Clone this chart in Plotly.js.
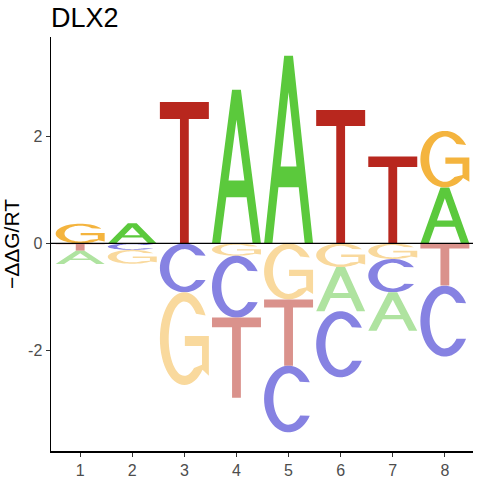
<!DOCTYPE html>
<html>
<head>
<meta charset="utf-8">
<script src="https://cdn.plot.ly/plotly-3.0.1.min.js"></script>
<style>html,body{margin:0;padding:0;background:#fff;}#chart{width:480px;height:480px;}</style>
</head>
<body>
<div id="chart"></div>
<script>
// ---- data ----
const title = "DLX2";
const positions = [1, 2, 3, 4, 5, 6, 7, 8];
const bases = ["A", "C", "G", "T"];
const valuesA = [-0.25, 0.38, 0, 2.88, 3.52, -0.83, -0.72, 1.05];
const valuesC = [0, -0.12, -0.915, -1.16, -1.25, -1.24, -0.625, -1.33];
const valuesG = [0.37, -0.26, -1.74, -0.23, -1.05, -0.44, -0.29, 1.06];
const valuesT = [-0.135, 0, 2.65, -1.50, -1.24, 2.50, 1.63, -0.79];
const yTicks = [-2, 0, 2];
const yTitle = "\u2212\u0394\u0394G/RT";

// ---- styles ----
const colorsPos = {A: "#5bc93c", C: "#3b36c8", G: "#f4b43e", T: "#b8271e"};
const colorsNeg = {A: "#afe3a0", C: "#8682e2", G: "#f9d99d", T: "#da928c"};
const halfWidth = 0.47;
const FONT = "Liberation Sans, Arial, sans-serif";

// ---- glyph outlines in a unit box ----
function arc(cx, cy, rx, ry, a0, a1, n) {
  const pts = [];
  for (let i = 0; i <= n; i++) {
    const a = (a0 + (a1 - a0) * i / n) * Math.PI / 180;
    pts.push([cx + rx * Math.cos(a), cy + ry * Math.sin(a)]);
  }
  return pts;
}
const glyphs = {
  A: [
    [[0,0],[0.17,0],[0.293,0.30],[0.707,0.30],[0.83,0],[1,0],[0.59,1],[0.41,1]],
    [[0.338,0.41],[0.662,0.41],[0.5,0.805]]
  ],
  T: [
    [[0.41,0],[0.59,0],[0.59,0.88],[1,0.88],[1,1],[0,1],[0,0.88],[0.41,0.88]]
  ],
  C: [
    arc(0.5,0.5,0.5,0.5,30,330,48).concat(arc(0.5,0.5,0.31,0.385,320,42,48))
  ],
  G: [
    arc(0.5,0.5,0.5,0.5,30,318,48)
      .concat([[1.0,0.1],[1.0,0.53],[0.51,0.53],[0.51,0.42],[0.86,0.42],[0.86,0.22]])
      .concat(arc(0.5,0.5,0.32,0.40,308,42,48))
  ]
};

function glyphPath(letter, x0, x1, y0, y1) {
  let d = "";
  glyphs[letter].forEach(poly => {
    poly.forEach((p, i) => {
      const x = x0 + p[0] * (x1 - x0);
      const y = y0 + p[1] * (y1 - y0);
      d += (i === 0 ? "M" : "L") + x.toFixed(4) + "," + y.toFixed(4);
    });
    d += "Z";
  });
  return d;
}

const valueMap = {A: valuesA, C: valuesC, G: valuesG, T: valuesT};
const shapes = [];
positions.forEach((pos, i) => {
  const entries = bases.map(b => ({b: b, v: valueMap[b][i]})).filter(e => e.v !== 0);
  const up = entries.filter(e => e.v > 0).sort((a, b) => a.v - b.v);
  const down = entries.filter(e => e.v < 0).sort((a, b) => b.v - a.v);
  let base = 0;
  up.forEach(e => {
    shapes.push({type: "path", xref: "x", yref: "y", fillrule: "evenodd",
      path: glyphPath(e.b, pos - halfWidth, pos + halfWidth, base, base + e.v),
      fillcolor: colorsPos[e.b], line: {width: 0}});
    base += e.v;
  });
  base = 0;
  down.forEach(e => {
    shapes.push({type: "path", xref: "x", yref: "y", fillrule: "evenodd",
      path: glyphPath(e.b, pos - halfWidth, pos + halfWidth, base + e.v, base),
      fillcolor: colorsNeg[e.b], line: {width: 0}});
    base += e.v;
  });
});
// zero line
shapes.push({type: "line", xref: "paper", yref: "y", x0: 0, x1: 1, y0: 0, y1: 0,
  line: {color: "#000", width: 1.2}});

const layout = {
  width: 480, height: 480,
  margin: {l: 51, r: 7, t: 37, b: 29},
  paper_bgcolor: "#fff", plot_bgcolor: "#fff",
  showlegend: false,
  font: {family: FONT, color: "#000"},
  title: {text: title, font: {family: FONT, size: 27, color: "#000"},
          xref: "paper", x: 0, xanchor: "left", yref: "container", y: 0.964, yanchor: "middle"},
  xaxis: {range: [0.44, 8.54], tickvals: positions, ticktext: positions.map(String),
    showgrid: false, zeroline: false, showline: true, linecolor: "#000", linewidth: 1.5,
    ticks: "outside", ticklen: 4, tickwidth: 1.2, tickcolor: "#333",
    tickfont: {family: FONT, size: 16, color: "#4d4d4d"}, fixedrange: true},
  yaxis: {range: [-3.89, 3.87], tickvals: yTicks, ticktext: yTicks.map(String),
    showgrid: false, zeroline: false, showline: true, linecolor: "#000", linewidth: 1.5,
    ticks: "outside", ticklen: 4, tickwidth: 1.2, tickcolor: "#333",
    tickfont: {family: FONT, size: 16, color: "#4d4d4d"},
    title: {text: yTitle, font: {family: FONT, size: 21, color: "#000"}, standoff: 6},
    fixedrange: true},
  shapes: shapes
};

Plotly.newPlot("chart", [], layout, {displayModeBar: false, staticPlot: true});
</script>
</body>
</html>
